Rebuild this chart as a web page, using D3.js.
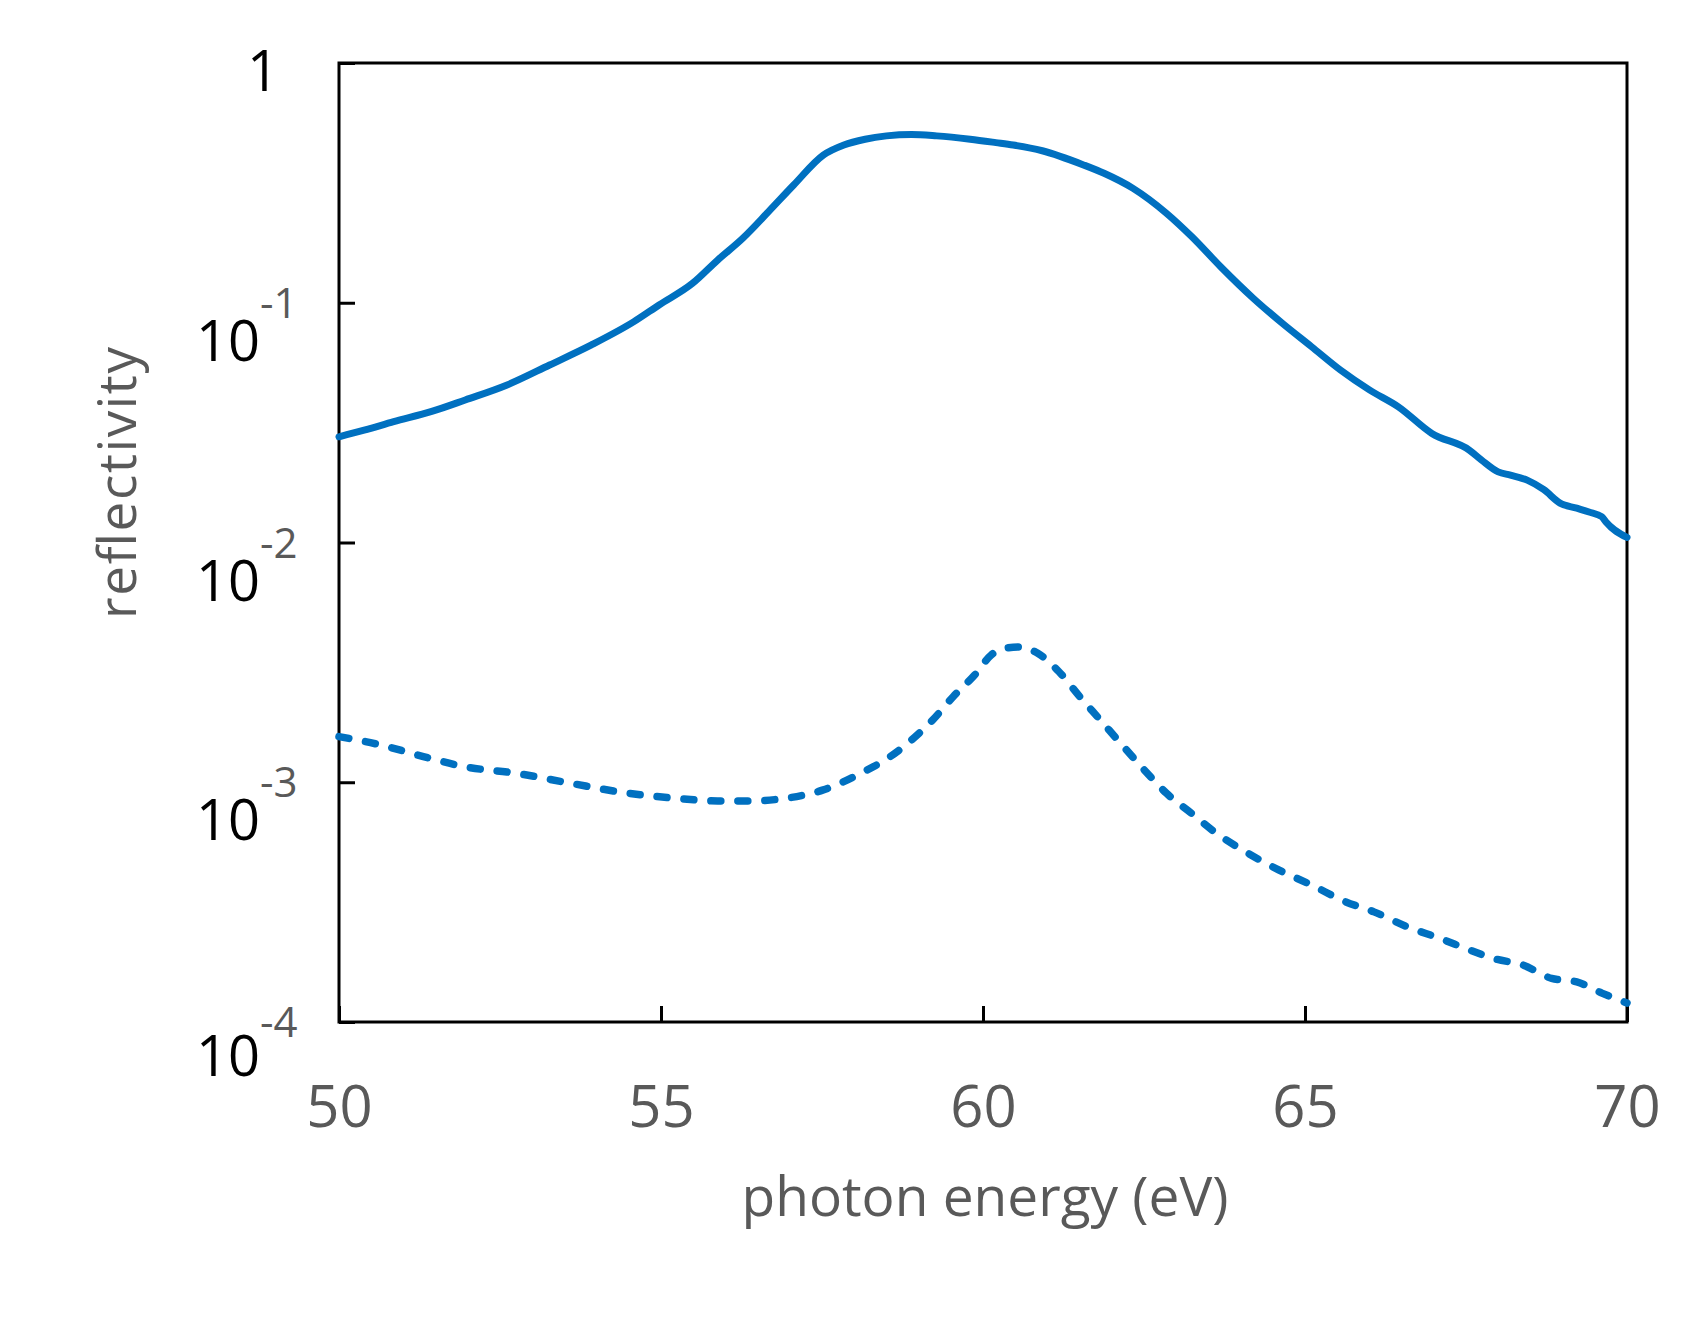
<!DOCTYPE html>
<html>
<head>
<meta charset="utf-8">
<script src="https://cdn.jsdelivr.net/npm/d3@7"></script>
<style>
  html, body { margin: 0; padding: 0; background: #ffffff; }
  svg { display: block; }
</style>
</head>
<body>
<svg id="chart" width="1703" height="1328"></svg>
<script>
// ---- data ----
const energySolid = [50.00, 50.39, 50.85, 51.44, 51.96, 52.61, 53.27, 53.92, 54.58, 54.97,
  55.49, 55.88, 56.27, 56.67, 57.06, 57.52, 57.84, 58.17, 58.50, 58.89, 59.28, 59.80,
  60.20, 60.47, 60.92, 61.56, 61.88, 62.33, 62.85, 63.24, 63.69, 64.20, 64.65, 65.10,
  65.55, 66.00, 66.45, 66.97, 67.55, 67.74, 68.00, 68.19, 68.45, 68.71, 68.96, 69.22,
  69.41, 69.61, 69.67, 70.00];
const reflSolid = [0.0276, 0.0294, 0.0319, 0.0352, 0.0393, 0.0454, 0.0550, 0.0667, 0.0834, 0.0979,
  0.1205, 0.1507, 0.1858, 0.2399, 0.3097, 0.4130, 0.4550, 0.4808, 0.4966, 0.5035, 0.4966, 0.4808,
  0.4656, 0.4550, 0.4305, 0.3758, 0.3467, 0.2999, 0.2360, 0.1888, 0.1413, 0.1042, 0.0820, 0.0656,
  0.0524, 0.0433, 0.0368, 0.0285, 0.0243, 0.0221, 0.0197, 0.0191, 0.0182, 0.0166, 0.0146, 0.0139,
  0.0134, 0.0128, 0.0122, 0.0105];

const energyDashed = [50.00, 50.65, 51.31, 51.96, 52.75, 53.59, 54.44, 55.23, 55.88, 56.41,
  56.93, 57.52, 58.10, 58.56, 58.89, 59.22, 59.54, 59.87, 60.13, 60.27, 60.56, 60.85,
  61.18, 61.50, 61.82, 62.14, 62.46, 62.85, 63.24, 63.62, 64.07, 64.59, 65.10, 65.62,
  66.07, 66.58, 67.10, 67.55, 67.93, 68.38, 68.83, 69.22, 69.61, 70.00];
const reflDashed = [0.00155, 0.00143, 0.00128, 0.00116, 0.00109, 0.000991, 0.000904, 0.000857, 0.000836, 0.000836,
  0.000857, 0.000929, 0.00109, 0.00128, 0.00150, 0.00182, 0.00228, 0.00280, 0.00340, 0.00358, 0.00367, 0.00345,
  0.00289, 0.00228, 0.00182, 0.00145, 0.00116, 0.000899, 0.000741, 0.000614, 0.000514, 0.000431, 0.000373, 0.000318,
  0.000288, 0.000250, 0.000223, 0.000200, 0.000184, 0.000173, 0.000152, 0.000147, 0.000132, 0.000120];

const xTicks = [50, 55, 60, 65, 70];
const yTickExponents = [-1, -2, -3, -4];
const xTitle = "photon energy (eV)";
const yTitle = "reflectivity";

// ---- layout ----
const svg = d3.select("#chart");
const plotLeft = 339, plotRight = 1627, plotTop = 63, plotBottom = 1022;
const FONT = "'Open Sans', 'Noto Sans', sans-serif";
const GRAY = "#595959";
const BLUE = "#0070C0";

const x = d3.scaleLinear().domain([50, 70]).range([plotLeft, plotRight]);
const y = d3.scaleLog().domain([1e-4, 1]).range([plotBottom, plotTop]);

// x axis (ticks inside)
const xAxis = d3.axisBottom(x).tickValues(xTicks).tickSizeInner(-16).tickSizeOuter(0).tickPadding(64)
  .tickFormat(d3.format("d"));
const gx = svg.append("g").attr("transform", `translate(0,${plotBottom})`).call(xAxis);
gx.select(".domain").remove();
gx.selectAll(".tick line").attr("stroke", "#000").attr("stroke-width", 3);
gx.selectAll(".tick text").attr("fill", GRAY).attr("font-family", FONT).attr("font-size", 58);

// y axis ticks (inside), labels custom
const yAxis = d3.axisLeft(y).tickValues(yTickExponents.map(e => Math.pow(10, e)).concat([1]))
  .tickSizeInner(-16).tickSizeOuter(0).tickFormat("");
const gy = svg.append("g").attr("transform", `translate(${plotLeft},0)`).call(yAxis);
gy.select(".domain").remove();
gy.selectAll(".tick line").attr("stroke", "#000").attr("stroke-width", 3);

// y labels
svg.append("text").attr("x", 263).attr("y", y(1) + 28)
  .attr("text-anchor", "middle").attr("font-family", FONT).attr("font-size", 56).attr("fill", "#000")
  .text("1");
const yl = svg.append("g").selectAll("text").data(yTickExponents).join("text")
  .attr("x", 196).attr("y", d => y(Math.pow(10, d)) + (d === -4 ? 54 : 58))
  .attr("text-anchor", "start").attr("font-family", FONT);
yl.append("tspan").attr("font-size", 56).attr("fill", "#000").text("10");
yl.append("tspan").attr("font-size", 42).attr("fill", GRAY)
  .attr("dx", 0).attr("dy", d => (d === -4 ? -39 : -43))
  .text(d => String(d));

// frame
svg.append("rect").attr("x", plotLeft).attr("y", plotTop)
  .attr("width", plotRight - plotLeft).attr("height", plotBottom - plotTop)
  .attr("fill", "none").attr("stroke", "#000").attr("stroke-width", 3);

// curves
const line = d3.line().x(d => x(d[0])).y(d => y(d[1])).curve(d3.curveMonotoneX);
svg.append("path").datum(d3.zip(energySolid, reflSolid))
  .attr("d", line).attr("fill", "none").attr("stroke", BLUE).attr("stroke-width", 7)
  .attr("stroke-linejoin", "round").attr("stroke-linecap", "round");
svg.append("path").datum(d3.zip(energyDashed, reflDashed))
  .attr("d", line).attr("fill", "none").attr("stroke", BLUE).attr("stroke-width", 7.5)
  .attr("stroke-dasharray", "10,17").attr("stroke-linecap", "round");

// axis titles
svg.append("text").attr("x", 985).attr("y", 1216).attr("text-anchor", "middle")
  .attr("font-family", FONT).attr("font-size", 55).attr("fill", GRAY).text(xTitle);
svg.append("text").attr("transform", "translate(136,483) rotate(-90)").attr("text-anchor", "middle")
  .attr("font-family", FONT).attr("font-size", 53).attr("fill", GRAY)
  .attr("textLength", 272).attr("lengthAdjust", "spacing").text(yTitle);
</script>
</body>
</html>
